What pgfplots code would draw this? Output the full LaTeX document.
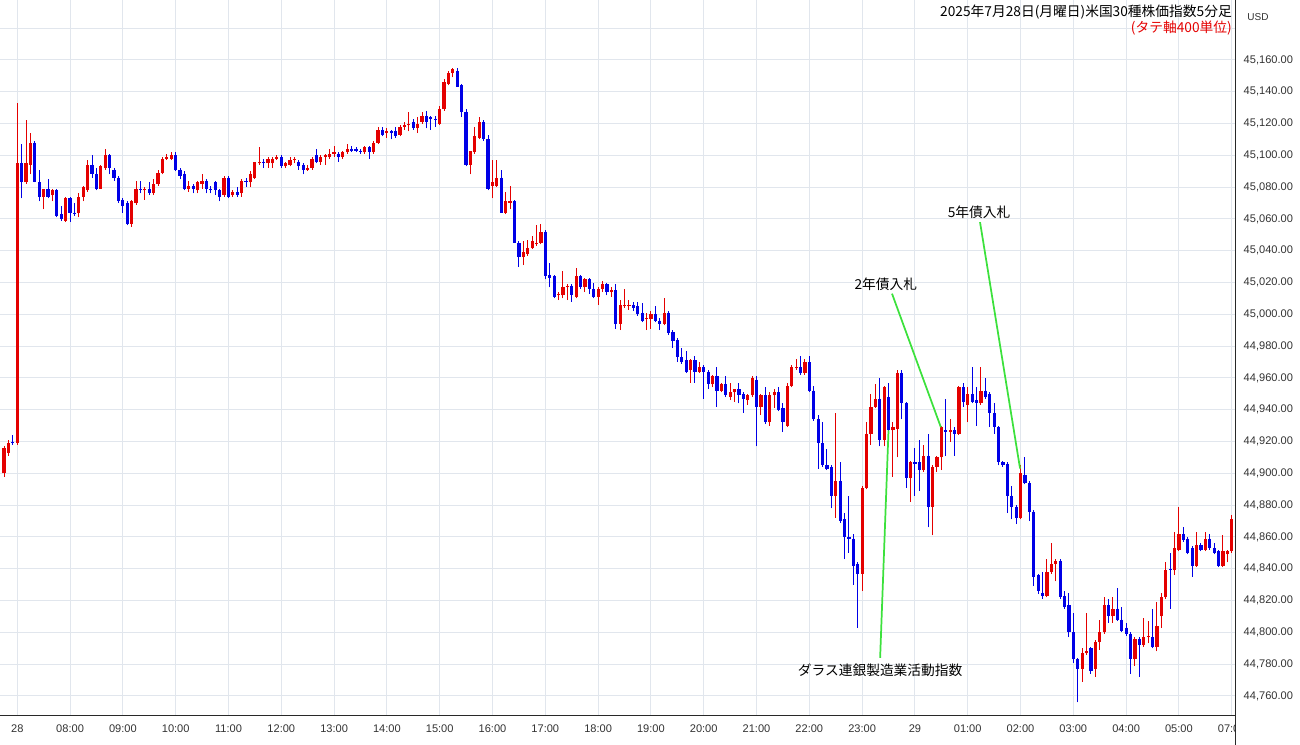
\documentclass[border=0pt]{standalone}
\usepackage{fontspec}
\setmainfont{Liberation Sans}
\newfontfamily\jp{Noto Sans CJK JP}
\usepackage{pgfplots}
\usepackage{pgfplotstable}
\pgfplotsset{compat=1.18}

\definecolor{upred}{RGB}{228,0,0}
\definecolor{downblue}{RGB}{0,0,230}
\definecolor{gridc}{RGB}{225,230,237}
\definecolor{axc}{RGB}{40,40,40}
\definecolor{tickc}{RGB}{50,50,50}
\definecolor{note}{RGB}{60,225,60}

% 5-minute candles, i = bar number from 07:00 on the 28th
\pgfplotstableread{
i O H L C
-3 44900 44917 44898 44916
-2 44913 44921 44911 44919
-1 44920 44924 44918 44919
0 44919 45133 44918 45095
1 45095 45107 45073 45083
2 45083 45122 45082 45095
3 45094 45114 45088 45108
4 45108 45109 45083 45083
5 45083 45091 45071 45074
6 45074 45079 45066 45079
7 45079 45085 45073 45074
8 45075 45079 45071 45078
9 45078 45079 45061 45062
10 45063 45068 45059 45060
11 45059 45074 45058 45073
12 45073 45074 45058 45064
13 45064 45070 45062 45063
14 45064 45076 45061 45074
15 45074 45081 45071 45080
16 45078 45097 45077 45094
17 45094 45100 45086 45088
18 45088 45092 45078 45079
19 45079 45094 45079 45093
20 45092 45104 45091 45100
21 45100 45101 45088 45092
22 45091 45092 45084 45086
23 45086 45087 45070 45071
24 45072 45073 45064 45068
25 45070 45071 45056 45057
26 45057 45072 45055 45071
27 45070 45084 45069 45079
28 45079 45084 45076 45078
29 45078 45080 45072 45079
30 45079 45083 45075 45076
31 45076 45085 45075 45082
32 45082 45091 45081 45089
33 45089 45099 45088 45098
34 45098 45101 45097 45099
35 45098 45102 45097 45100
36 45100 45102 45090 45091
37 45091 45092 45085 45087
38 45088 45090 45078 45079
39 45079 45084 45077 45081
40 45081 45082 45076 45079
41 45078 45084 45076 45083
42 45082 45088 45079 45084
43 45084 45085 45076 45079
44 45079 45081 45076 45078
45 45083 45084 45075 45078
46 45078 45079 45071 45074
47 45075 45087 45074 45086
48 45086 45087 45073 45074
49 45075 45078 45074 45077
50 45077 45080 45074 45075
51 45076 45085 45074 45084
52 45084 45086 45080 45083
53 45083 45090 45080 45088
54 45086 45096 45085 45096
55 45095 45105 45094 45096
56 45096 45098 45092 45095
57 45095 45099 45092 45098
58 45095 45099 45092 45098
59 45098 45100 45097 45099
60 45099 45100 45092 45093
61 45093 45096 45092 45095
62 45094 45099 45093 45097
63 45097 45099 45095 45098
64 45096 45097 45091 45093
65 45094 45095 45088 45091
66 45091 45094 45090 45092
67 45092 45099 45091 45098
68 45100 45104 45095 45096
69 45096 45100 45094 45099
70 45099 45101 45094 45100
71 45099 45104 45098 45101
72 45101 45106 45099 45102
73 45101 45102 45096 45099
74 45099 45103 45098 45102
75 45102 45107 45101 45104
76 45104 45106 45102 45103
77 45104 45105 45102 45103
78 45103 45104 45101 45102
79 45102 45106 45101 45105
80 45105 45106 45098 45102
81 45102 45109 45101 45108
82 45108 45118 45107 45116
83 45116 45118 45112 45113
84 45114 45117 45111 45115
85 45115 45116 45110 45114
86 45115 45118 45111 45112
87 45113 45119 45112 45118
88 45118 45121 45116 45119
89 45119 45127 45115 45120
90 45121 45123 45116 45117
91 45117 45124 45114 45120
92 45121 45127 45120 45125
93 45125 45128 45117 45121
94 45124 45125 45116 45123
95 45123 45125 45118 45122
96 45120 45131 45119 45129
97 45129 45148 45128 45146
98 45145 45153 45144 45152
99 45152 45155 45149 45154
100 45153 45155 45143 45143
101 45144 45145 45124 45127
102 45127 45129 45093 45094
103 45094 45103 45088 45103
104 45102 45118 45101 45112
105 45111 45124 45110 45121
106 45121 45122 45109 45110
107 45110 45113 45078 45079
108 45081 45097 45073 45083
109 45081 45097 45080 45086
110 45086 45091 45064 45064
111 45064 45077 45063 45071
112 45070 45081 45066 45071
113 45071 45072 45045 45045
114 45045 45046 45030 45036
115 45036 45046 45031 45039
116 45038 45047 45037 45042
117 45042 45049 45041 45046
118 45044 45056 45043 45045
119 45045 45057 45044 45052
120 45052 45053 45022 45024
121 45025 45032 45017 45023
122 45024 45025 45010 45011
123 45012 45014 45009 45013
124 45012 45027 45010 45017
125 45017 45019 45009 45018
126 45018 45019 45008 45012
127 45011 45029 45010 45024
128 45024 45025 45016 45017
129 45017 45023 45014 45022
130 45022 45023 45013 45016
131 45016 45020 45010 45011
132 45011 45017 45006 45016
133 45016 45021 45014 45019
134 45019 45020 45012 45014
135 45014 45017 45011 45015
136 45015 45019 44991 44994
137 44994 45009 44990 45006
138 45005 45016 45004 45006
139 45005 45009 45003 45006
140 45006 45008 45002 45004
141 45005 45008 44999 45000
142 45001 45007 44995 44996
143 44997 45001 44990 44998
144 44997 45002 44991 45000
145 45000 45005 44995 44996
146 44996 44998 44990 44994
147 44994 45010 44993 45001
148 45001 45002 44987 44988
149 44989 44990 44979 44983
150 44984 44985 44970 44973
151 44973 44979 44969 44970
152 44971 44977 44963 44964
153 44965 44972 44957 44971
154 44971 44974 44957 44964
155 44964 44970 44963 44967
156 44967 44968 44947 44964
157 44964 44965 44953 44956
158 44956 44962 44954 44961
159 44961 44967 44942 44952
160 44952 44957 44951 44956
161 44956 44961 44948 44949
162 44948 44957 44946 44951
163 44951 44953 44945 44953
164 44953 44957 44944 44949
165 44950 44951 44938 44947
166 44946 44950 44943 44949
167 44949 44961 44948 44960
168 44959 44961 44917 44942
169 44942 44950 44937 44949
170 44949 44954 44931 44932
171 44932 44951 44930 44949
172 44949 44953 44941 44951
173 44951 44954 44939 44940
174 44941 44944 44926 44932
175 44930 44957 44929 44955
176 44955 44968 44954 44967
177 44966 44972 44965 44967
178 44967 44974 44962 44963
179 44963 44972 44962 44970
180 44970 44974 44951 44952
181 44952 44955 44933 44934
182 44934 44937 44903 44919
183 44919 44932 44904 44905
184 44905 44915 44902 44903
185 44904 44905 44878 44886
186 44886 44938 44872 44895
187 44895 44907 44869 44870
188 44871 44875 44846 44860
189 44860 44886 44850 44859
190 44859 44862 44830 44842
191 44843 44844 44803 44837
192 44837 44892 44826 44891
193 44891 44932 44890 44925
194 44925 44950 44918 44942
195 44942 44956 44941 44947
196 44947 44960 44917 44921
197 44921 44955 44917 44954
198 44948 44957 44926 44927
199 44927 44932 44898 44929
200 44928 44965 44910 44963
201 44963 44965 44934 44944
202 44944 44945 44891 44897
203 44897 44908 44882 44907
204 44907 44916 44886 44906
205 44907 44921 44889 44902
206 44902 44918 44901 44911
207 44911 44925 44866 44879
208 44879 44905 44861 44904
209 44904 44911 44901 44910
210 44910 44930 44902 44929
211 44927 44947 44911 44926
212 44926 44934 44920 44927
213 44927 44929 44911 44925
214 44925 44955 44924 44954
215 44954 44957 44942 44945
216 44943 44954 44932 44950
217 44950 44967 44944 44945
218 44946 44954 44930 44944
219 44944 44967 44943 44952
220 44952 44960 44947 44948
221 44950 44951 44929 44938
222 44938 44944 44925 44929
223 44929 44930 44905 44907
224 44907 44908 44904 44905
225 44906 44907 44875 44886
226 44886 44892 44871 44879
227 44879 44880 44868 44872
228 44872 44905 44871 44900
229 44899 44910 44893 44894
230 44894 44895 44870 44876
231 44876 44877 44829 44835
232 44836 44837 44824 44826
233 44825 44838 44821 44823
234 44823 44846 44822 44838
235 44838 44856 44837 44843
236 44843 44846 44832 44845
237 44845 44846 44821 44822
238 44823 44826 44815 44816
239 44817 44825 44797 44800
240 44800 44812 44781 44783
241 44783 44784 44756 44777
242 44777 44790 44769 44787
243 44787 44812 44786 44788
244 44790 44791 44774 44776
245 44777 44795 44772 44794
246 44794 44808 44789 44800
247 44800 44822 44799 44817
248 44817 44821 44806 44810
249 44810 44822 44806 44815
250 44815 44828 44807 44808
251 44808 44816 44800 44801
252 44803 44806 44798 44799
253 44799 44800 44774 44783
254 44783 44797 44779 44796
255 44796 44797 44772 44792
256 44792 44809 44791 44797
257 44797 44807 44793 44798
258 44797 44815 44790 44791
259 44791 44819 44788 44804
260 44810 44825 44803 44822
261 44822 44844 44821 44839
262 44840 44850 44815 44839
263 44839 44863 44836 44853
264 44852 44879 44851 44862
265 44862 44866 44857 44858
266 44859 44860 44849 44850
267 44853 44854 44835 44842
268 44842 44863 44841 44855
269 44855 44856 44851 44852
270 44852 44863 44851 44859
271 44859 44862 44852 44853
272 44853 44856 44849 44850
273 44851 44852 44841 44842
274 44842 44861 44841 44851
275 44849 44852 44844 44851
276 44851 44874 44850 44871
}\candles

\begin{document}
\begin{tikzpicture}
\begin{axis}[
  at={(0,0)}, anchor=south west,
  scale only axis, width=926.25pt, height=537pt,
  xmin=-3.93, xmax=276.75, ymin=44747.4, ymax=45197.7,
  axis x line*=bottom, axis y line*=right,
  axis line style={axc, line width=0.75pt},
  major tick length=0pt,
  grid=major, grid style={gridc, line width=0.75pt},
  xtick={0,12,...,276},
  xticklabels={28,08:00,09:00,10:00,11:00,12:00,13:00,14:00,15:00,16:00,17:00,18:00,19:00,20:00,21:00,22:00,23:00,29,01:00,02:00,03:00,04:00,05:00,07:00},
  ytick={44760,44780,...,45160},
  extra y ticks={45180}, extra y tick labels={},
  scaled y ticks=false,
  tick label style={font=\fontsize{8.3}{10}\selectfont, text=tickc},
  xticklabel style={yshift=-3pt},
  yticklabel style={xshift=3pt, /pgf/number format/.cd, fixed, fixed zerofill, precision=2, 1000 sep={,}, assume math mode=true},
  colormap={updown}{rgb255=(0,0,230) rgb255=(228,0,0)},
  point meta min=0, point meta max=1,
  clip=true,
]
% wicks
\addplot[mark=none, line width=0.8pt, point meta={\thisrow{C}>\thisrow{O}},
  quiver={u=0, v=\thisrow{H}-\thisrow{L}, colored}]
  table[x=i, y=L] {\candles};
% bodies
\addplot[mark=none, line width=2.4pt, point meta={\thisrow{C}>\thisrow{O}},
  quiver={u=0, v=\thisrow{C}-\thisrow{O}, colored}]
  table[x=i, y=O] {\candles};

% event notes
\draw[note, line width=1.3pt] (axis cs:196.1,44784) -- (axis cs:198.0,44927);
\draw[note, line width=1.3pt] (axis cs:198.8,45013) -- (axis cs:209.9,44929);
\draw[note, line width=1.3pt] (axis cs:218.8,45058) -- (axis cs:227.9,44903);
\node[font=\jp\fontsize{10.3}{12}\selectfont] at (axis cs:197.4,45019) {2年債入札};
\node[font=\jp\fontsize{10.3}{12}\selectfont] at (axis cs:218.6,45064) {5年債入札};
\node[font=\jp\fontsize{10.3}{12}\selectfont] at (axis cs:196.1,44776) {ダラス連銀製造業活動指数};
\end{axis}

% header
\node[anchor=east, inner sep=0pt, font=\jp\fontsize{10.3}{12}\selectfont] at (924pt,528pt) {2025年7月28日(月曜日)米国30種株価指数5分足};
\node[anchor=east, inner sep=0pt, text=upred, font=\jp\fontsize{10.3}{12}\selectfont] at (924pt,516pt) {(タテ軸400単位)};
\node[inner sep=0pt, text=tickc, font=\fontsize{7.5}{9}\selectfont] at (943.5pt,524.25pt) {USD};

% right panel below the price axis
\fill[white] (926.25pt,-21.75pt) rectangle (975pt,-0.4pt);
\draw[axc, line width=0.75pt] (926.25pt,-21.75pt) -- (926.25pt,0pt);

\pgfresetboundingbox
\path (0pt,-21.75pt) rectangle (975pt,537pt);
\end{tikzpicture}
\end{document}
